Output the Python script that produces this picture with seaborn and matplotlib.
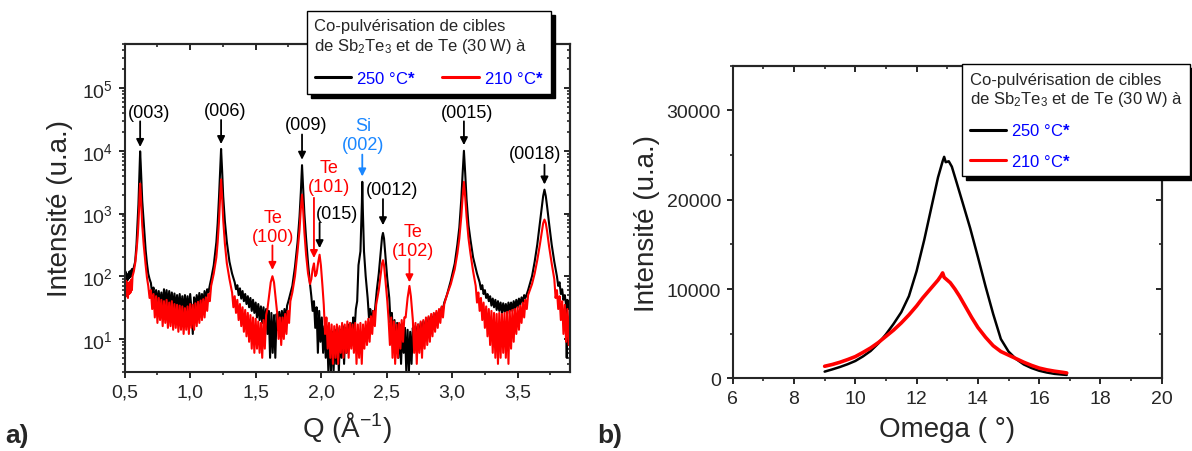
import matplotlib
matplotlib.use("Agg")
import pandas as pd
import matplotlib.pyplot as plt
import seaborn as sns
from matplotlib.lines import Line2D
from matplotlib.ticker import MultipleLocator, LogLocator, FuncFormatter, NullFormatter

# ---------------- panel a: XRD, Q (1/A) vs intensity ----------------
xrd_250 = [
    (0.500, 95), (0.505, 120), (0.510, 88), (0.515, 110), (0.520, 85), (0.525, 105), (0.530, 92),
    (0.535, 118), (0.540, 96), (0.545, 122), (0.550, 100), (0.555, 130), (0.560, 112), (0.570, 140),
    (0.580, 170), (0.590, 320), (0.600, 850), (0.605, 1400), (0.610, 3000), (0.614, 6000),
    (0.618, 9800), (0.622, 6500), (0.627, 3500), (0.634, 1600), (0.645, 750), (0.660, 260),
    (0.670, 160), (0.680, 110), (0.690, 90), (0.700, 78),
    (0.71, 52), (0.72, 66), (0.73, 40), (0.74, 60), (0.75, 36), (0.76, 58), (0.77, 34), (0.78, 55),
    (0.79, 30), (0.80, 62), (0.81, 36), (0.82, 60), (0.83, 33), (0.84, 58), (0.85, 32), (0.86, 55),
    (0.87, 30), (0.88, 53), (0.89, 29), (0.90, 50), (0.91, 28), (0.92, 52), (0.93, 27), (0.94, 48),
    (0.95, 26), (0.96, 50), (0.97, 28), (0.98, 48), (0.99, 26), (1.00, 52), (1.01, 30), (1.02, 12),
    (1.03, 46), (1.04, 28), (1.05, 50), (1.06, 32), (1.07, 54), (1.08, 34), (1.09, 52), (1.10, 36),
    (1.11, 58), (1.12, 40), (1.13, 62), (1.14, 55), (1.15, 72),
    (1.16, 90), (1.18, 150), (1.20, 350), (1.21, 700), (1.22, 1800), (1.228, 4500), (1.236, 10700),
    (1.244, 4800), (1.252, 1900), (1.265, 750), (1.28, 350), (1.30, 170), (1.32, 110), (1.34, 80),
    (1.35, 62), (1.36, 72), (1.37, 50), (1.38, 64), (1.39, 44), (1.40, 58), (1.41, 40), (1.42, 52),
    (1.43, 36), (1.44, 48), (1.45, 32), (1.46, 45), (1.47, 28), (1.48, 42), (1.49, 26), (1.50, 38),
    (1.51, 22), (1.52, 36), (1.53, 20), (1.54, 33), (1.55, 18), (1.56, 32), (1.57, 16), (1.58, 30),
    (1.59, 12), (1.60, 28), (1.61, 5), (1.62, 26), (1.63, 6), (1.64, 24), (1.65, 5), (1.66, 25),
    (1.67, 14), (1.68, 27), (1.69, 16), (1.70, 28), (1.71, 18), (1.72, 30), (1.73, 20), (1.74, 34),
    (1.75, 40), (1.78, 70), (1.80, 140), (1.82, 350), (1.835, 900), (1.845, 2200), (1.854, 5900),
    (1.862, 2600), (1.872, 1000), (1.885, 400), (1.90, 160), (1.915, 75), (1.925, 48),
    (1.935, 28), (1.945, 40), (1.955, 15), (1.965, 32), (1.975, 6), (1.985, 28), (1.995, 9),
    (2.005, 22), (2.015, 6), (2.025, 16), (2.035, 5), (2.045, 14), (2.055, 3), (2.065, 12),
    (2.075, 3), (2.085, 13), (2.095, 3), (2.105, 14), (2.115, 4), (2.125, 15), (2.135, 3),
    (2.145, 14), (2.155, 5), (2.165, 16), (2.175, 4), (2.185, 15), (2.195, 6), (2.205, 17),
    (2.215, 8), (2.225, 18), (2.235, 9), (2.245, 22), (2.255, 14), (2.265, 30), (2.275, 40),
    (2.285, 150), (2.30, 250), (2.311, 1500), (2.314, 3200), (2.318, 1200), (2.327, 250),
    (2.34, 100), (2.355, 45),
    (2.365, 22), (2.375, 30), (2.385, 16), (2.395, 28), (2.405, 20), (2.415, 36),
    (2.425, 60), (2.44, 110), (2.455, 250), (2.465, 420), (2.472, 490), (2.48, 400), (2.49, 220),
    (2.505, 90), (2.52, 45),
    (2.53, 18), (2.54, 26), (2.55, 9), (2.56, 20), (2.57, 6), (2.58, 18), (2.59, 5), (2.60, 17),
    (2.61, 4), (2.62, 16), (2.63, 6), (2.64, 15), (2.65, 3), (2.66, 14), (2.67, 3), (2.68, 13),
    (2.69, 4), (2.70, 15), (2.71, 8), (2.72, 16), (2.73, 9), (2.74, 17), (2.75, 10), (2.76, 18),
    (2.77, 11), (2.78, 19), (2.79, 12), (2.80, 20), (2.81, 13), (2.82, 22), (2.83, 14), (2.84, 23),
    (2.85, 16), (2.86, 25), (2.87, 18), (2.88, 26), (2.89, 20), (2.90, 28), (2.91, 24), (2.92, 32),
    (2.93, 30), (2.94, 38),
    (2.96, 50), (2.99, 85), (3.02, 160), (3.04, 320), (3.055, 600), (3.07, 1700), (3.08, 4300),
    (3.09, 10000), (3.10, 4300), (3.11, 1700), (3.125, 650), (3.14, 380), (3.16, 200), (3.19, 110),
    (3.21, 80),
    (3.22, 62), (3.23, 72), (3.24, 52), (3.25, 60), (3.26, 45), (3.27, 52), (3.28, 40), (3.29, 48),
    (3.30, 34), (3.31, 44), (3.32, 32), (3.33, 42), (3.34, 29), (3.35, 40), (3.36, 28), (3.37, 38),
    (3.38, 26), (3.39, 37), (3.40, 27), (3.41, 36), (3.42, 25), (3.43, 38), (3.44, 28), (3.45, 38),
    (3.46, 28), (3.47, 40), (3.48, 30), (3.49, 42), (3.50, 32), (3.51, 44), (3.52, 35), (3.53, 46),
    (3.54, 38), (3.55, 50), (3.56, 45),
    (3.58, 60), (3.61, 100), (3.63, 170), (3.65, 320), (3.67, 700), (3.685, 1300), (3.695, 1900),
    (3.705, 2400), (3.715, 1900), (3.725, 1300), (3.74, 700), (3.76, 320), (3.78, 170), (3.80, 100),
    (3.81, 70), (3.82, 80), (3.83, 52), (3.84, 62), (3.85, 42), (3.86, 50), (3.87, 35), (3.875, 5),
    (3.88, 42), (3.89, 30), (3.90, 38),
]

xrd_210 = [
    (0.500, 70), (0.505, 50), (0.510, 85), (0.515, 48), (0.520, 80), (0.525, 45), (0.530, 78),
    (0.535, 52), (0.540, 82), (0.545, 55), (0.550, 88), (0.555, 60), (0.560, 100), (0.570, 120),
    (0.580, 160), (0.590, 250), (0.600, 450), (0.605, 700), (0.610, 1200), (0.614, 2100),
    (0.618, 3000), (0.622, 2200), (0.627, 1300), (0.634, 650), (0.645, 320), (0.660, 150),
    (0.670, 95), (0.680, 70), (0.690, 45), (0.700, 60),
    (0.71, 30), (0.72, 52), (0.73, 22), (0.74, 48), (0.75, 18), (0.76, 45), (0.77, 20), (0.78, 42),
    (0.79, 16), (0.80, 40), (0.81, 18), (0.82, 42), (0.83, 15), (0.84, 38), (0.85, 16), (0.86, 40),
    (0.87, 14), (0.88, 36), (0.89, 15), (0.90, 35), (0.91, 13), (0.92, 34), (0.93, 14), (0.94, 33),
    (0.95, 12), (0.96, 31), (0.97, 14), (0.98, 33), (0.99, 12), (1.00, 36), (1.01, 15), (1.02, 35),
    (1.03, 14), (1.04, 37), (1.05, 16), (1.06, 39), (1.07, 18), (1.08, 41), (1.09, 20), (1.10, 43),
    (1.11, 22), (1.12, 46), (1.13, 28), (1.14, 52), (1.15, 40),
    (1.16, 70), (1.18, 110), (1.20, 200), (1.21, 350), (1.22, 750), (1.228, 1700), (1.236, 3500),
    (1.244, 1800), (1.252, 800), (1.265, 330), (1.28, 160), (1.30, 90), (1.32, 55),
    (1.33, 32), (1.34, 48), (1.35, 26), (1.36, 42), (1.37, 20), (1.38, 36), (1.39, 16), (1.40, 32),
    (1.41, 13), (1.42, 29), (1.43, 11), (1.44, 26), (1.45, 9), (1.46, 24), (1.47, 7), (1.48, 22),
    (1.49, 6), (1.50, 21), (1.51, 7), (1.52, 19), (1.53, 6), (1.54, 18), (1.55, 5), (1.56, 20),
    (1.57, 7), (1.58, 24), (1.59, 30),
    (1.605, 55), (1.615, 80), (1.628, 100), (1.64, 80), (1.65, 50), (1.665, 25),
    (1.675, 10), (1.685, 22), (1.695, 8), (1.705, 22), (1.715, 10), (1.725, 25), (1.735, 12),
    (1.745, 28), (1.755, 18),
    (1.765, 40), (1.78, 55), (1.80, 100), (1.82, 250), (1.835, 550), (1.845, 1200), (1.854, 2000),
    (1.862, 1200), (1.872, 500), (1.885, 220), (1.90, 110), (1.915, 75),
    (1.925, 90), (1.935, 130), (1.945, 160), (1.955, 100), (1.965, 110), (1.978, 170),
    (1.988, 220), (1.998, 150), (2.01, 70), (2.02, 35),
    (2.03, 12), (2.04, 22), (2.05, 7), (2.06, 18), (2.07, 5), (2.08, 17), (2.09, 4), (2.10, 16),
    (2.11, 5), (2.12, 17), (2.13, 4), (2.14, 16), (2.15, 6), (2.16, 18), (2.17, 5), (2.18, 17),
    (2.19, 6), (2.20, 19), (2.21, 5), (2.22, 18), (2.23, 7), (2.24, 17), (2.25, 6), (2.26, 18),
    (2.27, 4), (2.28, 17), (2.29, 5), (2.30, 18), (2.31, 4), (2.32, 17), (2.33, 7), (2.34, 19),
    (2.35, 8), (2.36, 21), (2.37, 9), (2.38, 23), (2.39, 12), (2.40, 28), (2.41, 16),
    (2.42, 35), (2.44, 60), (2.455, 110), (2.465, 160), (2.472, 180), (2.48, 150), (2.49, 90),
    (2.505, 40), (2.515, 20),
    (2.525, 8), (2.535, 22), (2.545, 5), (2.555, 19), (2.565, 4), (2.575, 17), (2.585, 5),
    (2.595, 18), (2.605, 7), (2.615, 20), (2.625, 9), (2.635, 22),
    (2.645, 22), (2.66, 45), (2.674, 70), (2.685, 48), (2.70, 20),
    (2.71, 6), (2.72, 18), (2.73, 4), (2.74, 17), (2.75, 6), (2.76, 19), (2.77, 5), (2.78, 20),
    (2.79, 7), (2.80, 22), (2.81, 8), (2.82, 23), (2.83, 9), (2.84, 25), (2.85, 11), (2.86, 26),
    (2.87, 13), (2.88, 28), (2.89, 15), (2.90, 30), (2.91, 18), (2.92, 33), (2.93, 22), (2.94, 36),
    (2.96, 50), (2.99, 75), (3.02, 130), (3.04, 230), (3.055, 400), (3.07, 900), (3.08, 1800),
    (3.09, 3200), (3.10, 1800), (3.11, 900), (3.125, 400), (3.14, 230), (3.16, 120), (3.18, 70),
    (3.19, 38), (3.20, 55), (3.21, 28), (3.22, 45), (3.23, 20), (3.24, 38), (3.25, 15), (3.26, 33),
    (3.27, 11), (3.28, 30), (3.29, 8), (3.30, 28), (3.31, 6), (3.32, 26), (3.33, 5), (3.34, 25),
    (3.35, 4), (3.36, 26), (3.37, 5), (3.38, 25), (3.39, 6), (3.40, 26), (3.41, 5), (3.42, 27),
    (3.43, 4), (3.44, 28), (3.45, 7), (3.46, 29), (3.47, 9), (3.48, 30), (3.49, 12), (3.50, 32),
    (3.51, 14), (3.52, 34), (3.53, 18), (3.54, 38), (3.55, 22), (3.56, 42), (3.57, 30),
    (3.58, 50), (3.61, 75), (3.63, 110), (3.65, 180), (3.67, 320), (3.685, 520), (3.695, 700),
    (3.705, 800), (3.715, 700), (3.725, 520), (3.74, 300), (3.76, 160), (3.78, 90),
    (3.79, 45), (3.80, 60), (3.81, 30), (3.82, 48), (3.83, 20), (3.84, 40), (3.85, 12), (3.86, 35),
    (3.87, 9), (3.88, 30), (3.89, 8), (3.90, 28),
]

# peak labels of panel a
peak_text = ["(003)", "(006)", "(009)", "Te\n(100)", "Te\n(101)", "(015)", "Si\n(002)",
             "(0012)", "Te\n(102)", "(0015)", "(0018)"]
peak_color = ["black", "black", "black", "red", "red", "black", "#1a87ff",
              "black", "red", "black", "black"]
peak_q = [0.618, 1.236, 1.854, 1.628, 1.945, 1.988, 2.314, 2.472, 2.674, 3.09, 3.705]
arrow_tip = [11500, 12800, 7200, 126, 195, 280, 3900, 650, 80, 12300, 2900]
arrow_base = [29500, 31000, 18200, 310, 1780, 710, 8700, 1700, 187, 29500, 6000]
text_q = [0.683, 1.266, 1.883, 1.635, 2.057, 2.124, 2.322, 2.538, 2.698, 3.114, 3.632]
text_base = [30000, 32000, 19000, 320, 2000, 740, 9100, 1780, 190, 30000, 6600]

# ---------------- panel b: rocking curves ----------------
omega_250 = [9.0, 9.25, 9.5, 9.75, 10.0, 10.25, 10.5, 10.75, 11.0, 11.25, 11.5, 11.75, 12.0,
             12.25, 12.5, 12.7, 12.85, 12.9, 12.95, 13.05, 13.15, 13.3, 13.5, 13.75, 14.0,
             14.25, 14.5, 14.75, 15.0, 15.25, 15.5, 15.75, 16.0, 16.25, 16.5, 16.75, 16.9]
rc_250 = [750, 1000, 1270, 1580, 1940, 2450, 3060, 3900, 4930, 6100, 7400, 9200, 12000,
          15500, 19400, 22500, 24300, 24800, 24200, 24300, 23700, 22000, 19700, 16800, 13600,
          10300, 7200, 4400, 3000, 2150, 1550, 1150, 850, 650, 500, 420, 380]

omega_210 = [9.0, 9.25, 9.5, 9.75, 10.0, 10.25, 10.5, 10.75, 11.0, 11.25, 11.5, 11.75, 12.0,
             12.2, 12.4, 12.55, 12.7, 12.8, 12.85, 12.9, 13.0, 13.1, 13.25, 13.4, 13.6, 13.8,
             14.0, 14.25, 14.5, 14.75, 15.0, 15.25, 15.5, 15.75, 16.0, 16.25, 16.5, 16.75, 16.9]
rc_210 = [1350, 1550, 1800, 2100, 2430, 2900, 3400, 4000, 4700, 5400, 6200, 7100, 8100,
          9000, 9800, 10400, 11000, 11500, 11800, 11300, 11000, 10700, 10000, 9200, 8000, 6800,
          5700, 4600, 3650, 3000, 2600, 2200, 1800, 1450, 1150, 950, 800, 680, 600]

legend_title = "Co-pulvérisation de cibles\nde Sb$_2$Te$_3$ et de Te (30 W) à"
series_labels = ["250 °C$\\mathbf{*}$", "210 °C$\\mathbf{*}$"]


def style_ticks(ax, x_major, x_minor, log_y=False, y_major=None, y_minor=None):
    # main axis: ticks out on left/bottom, mirrored ticks in on top/right
    for side in ax.spines.values():
        side.set_linewidth(1.5)
    ax.tick_params(which="major", direction="out", length=4.5, width=1.4, labelsize=14, pad=4)
    ax.tick_params(which="minor", direction="out", length=2.5, width=1.2)
    ax.xaxis.set_major_locator(MultipleLocator(x_major))
    ax.xaxis.set_minor_locator(MultipleLocator(x_minor))

    top = ax.secondary_xaxis("top")
    top.xaxis.set_major_locator(MultipleLocator(x_major))
    top.xaxis.set_minor_locator(MultipleLocator(x_minor))
    top.tick_params(which="major", direction="in", length=4.5, width=1.4, labeltop=False)
    top.tick_params(which="minor", direction="in", length=2.5, width=1.2)
    top.spines["top"].set_linewidth(1.5)

    right = ax.secondary_yaxis("right")
    if log_y:
        right.yaxis.set_major_locator(LogLocator(base=10, numticks=20))
        right.yaxis.set_minor_locator(LogLocator(base=10, subs=[2, 3, 4, 5, 6, 7, 8, 9], numticks=20))
    else:
        right.yaxis.set_major_locator(MultipleLocator(y_major))
        right.yaxis.set_minor_locator(MultipleLocator(y_minor))
    right.yaxis.set_major_formatter(NullFormatter())
    right.yaxis.set_minor_formatter(NullFormatter())
    right.tick_params(which="major", direction="in", length=4.5, width=1.4, labelright=False)
    right.tick_params(which="minor", direction="in", length=2.5, width=1.2)
    right.spines["right"].set_linewidth(1.5)


def add_legend(ax, fig, anchor, ncol, labelspacing):
    handles = [Line2D([0], [0], color="black", lw=2.2), Line2D([0], [0], color="red", lw=2.2)]
    leg = ax.legend(handles, series_labels, title=legend_title, ncol=ncol, loc="upper left",
                    bbox_to_anchor=anchor, bbox_transform=fig.transFigure, borderaxespad=0,
                    fontsize=12, title_fontsize=12, alignment="left", fancybox=False,
                    framealpha=1, handlelength=2.2, handletextpad=0.3, columnspacing=1.6,
                    borderpad=0.45, labelspacing=labelspacing,
                    shadow={"ox": 3, "oy": -3, "facecolor": "black", "edgecolor": "black", "alpha": 1})
    leg.get_frame().set_edgecolor("black")
    leg.get_frame().set_linewidth(1.0)
    for t in leg.get_texts():
        t.set_color("blue")
    return leg


sns.set_style("ticks")
plt.rcParams["font.family"] = ["Liberation Sans", "DejaVu Sans"]
plt.rcParams["mathtext.fontset"] = "custom"
plt.rcParams["mathtext.rm"] = "Liberation Sans"
plt.rcParams["mathtext.it"] = "Liberation Sans:italic"
plt.rcParams["mathtext.bf"] = "Liberation Sans:bold"

fig = plt.figure(figsize=(11.92, 4.52), dpi=100)
ax_a = fig.add_axes([0.1046, 0.1754, 0.3736, 0.7257])
ax_b = fig.add_axes([0.6147, 0.1608, 0.3599, 0.6916])

# ---- panel a ----
df_250 = pd.DataFrame(xrd_250, columns=["Q", "I"])
df_210 = pd.DataFrame(xrd_210, columns=["Q", "I"])
sns.lineplot(data=df_250, x="Q", y="I", color="black", linewidth=1.5, estimator=None, sort=False, ax=ax_a)
sns.lineplot(data=df_210, x="Q", y="I", color="red", linewidth=1.5, estimator=None, sort=False, ax=ax_a)
ax_a.set_yscale("log")
ax_a.set_xlim(0.5, 3.9)
ax_a.set_ylim(3, 5.1e5)
ax_a.yaxis.set_major_locator(LogLocator(base=10, numticks=20))
ax_a.yaxis.set_minor_locator(LogLocator(base=10, subs=[2, 3, 4, 5, 6, 7, 8, 9], numticks=20))
ax_a.yaxis.set_minor_formatter(NullFormatter())
ax_a.xaxis.set_major_formatter(FuncFormatter(lambda v, p: f"{v:.1f}".replace(".", ",")))
style_ticks(ax_a, 0.5, 0.25, log_y=True)
ax_a.set_xlabel("Q (Å$^{-1}$)", fontsize=20)
ax_a.set_ylabel("Intensité (u.a.)", fontsize=20)
ax_a.yaxis.set_label_coords(-0.116, 0.5)
ax_a.xaxis.set_label_coords(0.5, -0.114)

# peak labels with vertical arrows
for txt, col, q, tip, base, tq, tb in zip(peak_text, peak_color, peak_q, arrow_tip,
                                           arrow_base, text_q, text_base):
    ax_a.annotate("", xy=(q, tip), xytext=(q, base),
                  arrowprops=dict(arrowstyle="-|>", color=col, lw=1.3, mutation_scale=11,
                                  shrinkA=0, shrinkB=0))
    ax_a.text(tq, tb, txt, color=col, fontsize=13, ha="center", va="bottom", linespacing=1.15)

add_legend(ax_a, fig, (307 / 1192, 1 - 12 / 452), ncol=2, labelspacing=0.9)

# ---- panel b ----
df_b250 = pd.DataFrame({"Omega": omega_250, "I": rc_250})
df_b210 = pd.DataFrame({"Omega": omega_210, "I": rc_210})
sns.lineplot(data=df_b250, x="Omega", y="I", color="black", linewidth=1.8, estimator=None, sort=False, ax=ax_b)
sns.lineplot(data=df_b210, x="Omega", y="I", color="red", linewidth=2.6, estimator=None, sort=False, ax=ax_b)
ax_b.set_xlim(6, 20)
ax_b.set_ylim(0, 35000)
ax_b.yaxis.set_major_locator(MultipleLocator(10000))
ax_b.yaxis.set_minor_locator(MultipleLocator(5000))
style_ticks(ax_b, 2, 1, y_major=10000, y_minor=5000)
ax_b.set_xlabel("Omega ( °)", fontsize=20)
ax_b.set_ylabel("Intensité (u.a.)", fontsize=20)
ax_b.yaxis.set_label_coords(-0.169, 0.5)
ax_b.xaxis.set_label_coords(0.5, -0.12)

add_legend(ax_b, fig, (962 / 1192, 1 - 65 / 452), ncol=1, labelspacing=0.85)

fig.text(0.004, 0.008, "a)", fontsize=19, fontweight="bold", ha="left", va="bottom")
fig.text(0.501, 0.008, "b)", fontsize=19, fontweight="bold", ha="left", va="bottom")

fig.savefig("out.png", dpi=100)
plt.close(fig)
